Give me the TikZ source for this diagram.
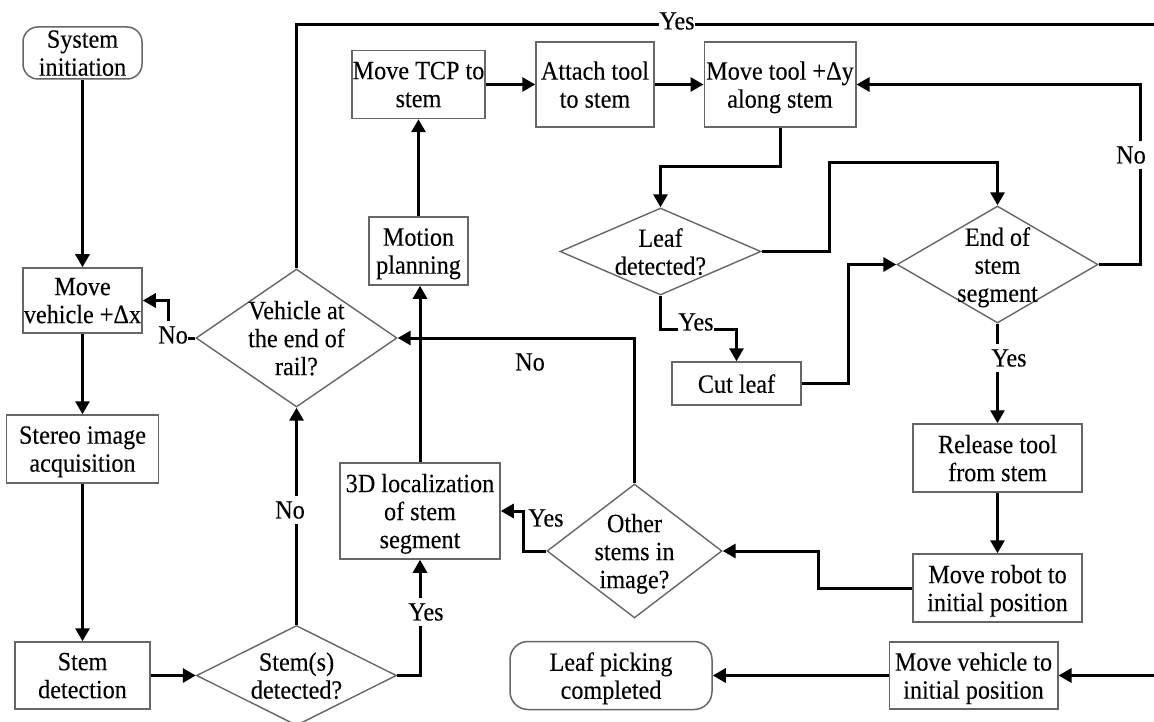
\documentclass[tikz,border=0pt]{standalone}
\usepackage{fontspec}
\setmainfont[FakeStretch=0.92,FakeBold=0.15]{Liberation Serif}
\usetikzlibrary{shapes.geometric,arrows.meta}
\definecolor{boxgray}{HTML}{666666}
\tikzset{
  every node/.style={text=black},
  basebox/.style={draw=boxgray,line width=1.5pt,inner sep=0pt,align=center,text depth=0pt,
    font=\fontsize{26.3}{28}\selectfont},
  procbox/.style={basebox,rectangle},
  termbox/.style={basebox,rectangle,rounded corners=15pt},
  decbox/.style={draw=boxgray,line width=1.4pt,diamond,inner sep=0pt,shape aspect=1},
  dectext/.style={align=center,font=\fontsize{26.3}{28}\selectfont,inner sep=0pt,text depth=0pt},
  conn/.style={line width=3pt,-{Triangle[length=13pt,width=14pt]}},
  plainconn/.style={line width=3pt},
  flag/.style={fill=white,inner sep=0pt,minimum height=28pt,font=\fontsize{26.3}{28}\selectfont},
}
\begin{document}
\begin{tikzpicture}[x=1pt,y=-1pt]
\useasboundingbox (0,0) rectangle (1154,722);
\clip (0,0) rectangle (1154,722);
% process boxes
\node[termbox,minimum width=119pt,minimum height=52pt] (sys) at (82.5,53) {System\\initiation};
\node[procbox,minimum width=119pt,minimum height=65pt] (mv) at (82.5,300.5) {Move\\vehicle +Δx};
\node[procbox,minimum width=152pt,minimum height=68pt] (stereo) at (82.5,449) {Stereo image\\acquisition};
\node[procbox,minimum width=135pt,minimum height=67pt] (det) at (82.5,675.5) {Stem\\detection};
\node[procbox,minimum width=160pt,minimum height=96pt] (loc) at (420,511) {3D localization\\of stem\\segment};
\node[procbox,minimum width=99pt,minimum height=68pt] (plan) at (418.5,251) {Motion\\planning};
\node[procbox,minimum width=133pt,minimum height=68pt] (tcp) at (418.5,84.5) {Move TCP to\\stem};
\node[procbox,minimum width=118pt,minimum height=85pt] (att) at (595,84.5) {Attach tool\\to stem};
\node[procbox,minimum width=151.5pt,minimum height=85pt] (tool) at (780,84.5) {Move tool +Δy\\along stem};
\node[procbox,minimum width=129pt,minimum height=43pt] (cut) at (736.5,383.5) {Cut leaf};
\node[procbox,minimum width=169pt,minimum height=68pt] (rel) at (997.5,458) {Release tool\\from stem};
\node[procbox,minimum width=169pt,minimum height=68pt] (rob) at (997.5,588) {Move robot to\\initial position};
\node[procbox,minimum width=168.5pt,minimum height=67pt] (back) at (973.5,675.5) {Move vehicle to\\initial position};
\node[termbox,rounded corners=18pt,minimum width=202pt,minimum height=68pt] (done) at (611,675.5) {Leaf picking\\completed};
% decision boxes
\node[decbox,minimum width=201pt,minimum height=138pt,label={[dectext]center:Vehicle at\\the end of\\rail?}] (rail) at (296.5,338) {};
\node[decbox,minimum width=200pt,minimum height=100pt,label={[dectext]center:Stem(s)\\detected?}] (found) at (296.5,675.5) {};
\node[decbox,minimum width=201pt,minimum height=87pt,label={[dectext]center:Leaf\\detected?}] (leaf) at (660.5,251.5) {};
\node[decbox,minimum width=201pt,minimum height=117pt,label={[dectext]center:End of\\stem\\segment}] (seg) at (997.5,264.5) {};
\node[decbox,minimum width=175pt,minimum height=134pt,label={[dectext]center:Other\\stems in\\image?}] (other) at (634.5,551) {};
% free ends and elbows
\coordinate (topright) at (1154,25);
\coordinate (botright) at (1154,675.5);
\coordinate (e1) at (720,167);
\coordinate (e2) at (829,163);
\coordinate (e3) at (700,329);
\coordinate (e4) at (848.5,300);
\coordinate (e5) at (1140.5,150);
\coordinate (e6) at (523,530);
\coordinate (e7) at (818,570);
\coordinate (e8) at (168,320);
% connectors
\draw[conn] (sys) -- (mv);
\draw[conn] (mv) -- (stereo);
\draw[conn] (stereo) -- (det);
\draw[conn] (det) -- (found);
\draw[conn] (found) -- (rail);
\draw[conn] (found.east) -| (loc.south);
\draw[conn] (loc.north) -- (loc.north |- plan.south);
\draw[conn] (plan) -- (tcp);
\draw[conn] (tcp) -- (att);
\draw[conn] (att) -- (tool);
\draw[conn] (tool.south) |- (e1) -| (leaf.north);
\draw[conn] (leaf.east) -| (e2) |- (seg.north |- e2) -- (seg.north);
\draw[conn] (leaf.south) |- (e3) -| (cut.north);
\draw[conn] (cut.east) -| (e4) |- (seg.west);
\draw[conn] (seg.east) -| (e5) |- (tool.east);
\draw[conn] (seg) -- (rel);
\draw[conn] (rel) -- (rob);
\draw[conn] (rob.west) -| (e7) |- (other.east);
\draw[conn] (other.west) -| (e6) |- (loc.east);
\draw[conn] (other.north) |- (rail.east);
\draw[conn] (rail.west) -| (e8) |- (mv.east);
\draw[plainconn] (rail.north) |- (topright);
\draw[conn] (botright) -- (back);
\draw[conn] (back) -- (done);
% labels on connectors
\node[flag] (ltop) at (677,21) {Yes};
\node[flag] (lrail) at (173,335) {No};
\node[flag] (lfno) at (290,510) {No};
\node[flag] (lfyes) at (426,612) {Yes};
\node[flag] (llyes) at (696,322) {Yes};
\node[flag] (lsno) at (1131,155) {No};
\node[flag] (lsyes) at (1009,358) {Yes};
\node[flag,fill=none] (loyes) at (546,518) {Yes};
\node[flag,fill=none] (lono) at (530,362) {No};
\end{tikzpicture}
\end{document}
